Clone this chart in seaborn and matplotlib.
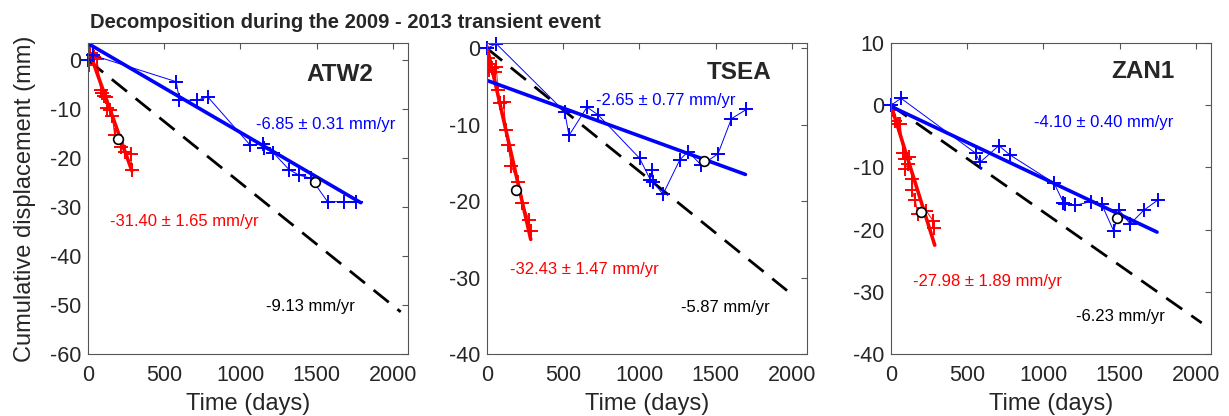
import seaborn as sns
import numpy as np
import matplotlib
matplotlib.use("Agg")
import matplotlib.pyplot as plt

stations = ["ATW2", "TSEA", "ZAN1"]

# time (days) / displacement (mm)
red_t = {
    "ATW2": [0, 7, 15, 37, 59, 83, 94, 103, 116, 124, 142, 159, 175, 218, 240, 280, 288],
    "TSEA": [0, 7, 13, 18, 35, 50, 61, 72, 83, 109, 123, 138, 160, 204, 232, 276, 287],
    "ZAN1": [0, 7, 29, 44, 61, 79, 94, 94, 110, 116, 138, 138, 160, 175, 232, 276, 285],
}
red_y = {
    "ATW2": [0, -1.0, 1.4, 0.7, 0.3, -6.0, -6.7, -7.3, -7.5, -9.7, -10.2, -11.4, -15.3, -17.7, -18.7, -19.2, -22.4],
    "TSEA": [0, -1.3, -2.8, -2.0, -2.6, -3.1, -2.4, -5.5, -7.2, -7.0, -10.7, -12.7, -15.4, -17.5, -20.2, -22.5, -23.9],
    "ZAN1": [0, -0.8, -2.6, -3.0, -3.0, -7.7, -8.7, -10.2, -9.4, -8.4, -11.8, -13.7, -15.3, -17.5, -17.0, -18.6, -19.8],
}
blue_t = {
    "ATW2": [0, 32, 579, 600, 714, 786, 1063, 1146, 1157, 1216, 1321, 1387, 1463, 1572, 1681, 1758],
    "TSEA": [0, 61, 510, 538, 656, 729, 1002, 1072, 1085, 1090, 1155, 1265, 1319, 1407, 1516, 1604, 1702],
    "ZAN1": [0, 66, 555, 583, 708, 781, 1070, 1132, 1140, 1208, 1311, 1382, 1461, 1498, 1570, 1658, 1754],
}
blue_y = {
    "ATW2": [0, 1.0, -4.4, -8.2, -8.2, -7.5, -17.3, -17.1, -18.0, -18.9, -22.4, -23.5, -24.1, -28.9, -28.9, -28.9],
    "TSEA": [0, 0.6, -8.3, -11.4, -7.7, -8.7, -14.4, -17.2, -15.9, -17.5, -19.1, -14.6, -13.5, -15.3, -13.8, -9.2, -8.0],
    "ZAN1": [0, 1.1, -7.7, -9.2, -6.5, -8.0, -12.5, -15.7, -15.9, -16.1, -15.5, -15.9, -20.2, -16.9, -19.1, -16.9, -15.2],
}
circ_t = {"ATW2": [197, 1487], "TSEA": [188, 1424], "ZAN1": [200, 1482]}
circ_y = {"ATW2": [-16.2, -24.8], "TSEA": [-18.6, -14.8], "ZAN1": [-17.2, -18.1]}

# fitted line end points
red_fit_t = {"ATW2": [13, 288], "TSEA": [0, 287], "ZAN1": [0, 287]}
red_fit_y = {"ATW2": [1.4, -22.6], "TSEA": [0.2, -25.0], "ZAN1": [0, -22.5]}
blue_fit_t = {"ATW2": [0, 1790], "TSEA": [0, 1696], "ZAN1": [0, 1746]}
blue_fit_y = {"ATW2": [3.4, -29.1], "TSEA": [-4.2, -16.5], "ZAN1": [-0.2, -20.4]}
lin_t = {"ATW2": [0, 2052], "TSEA": [0, 1969], "ZAN1": [0, 2039]}
lin_y = {"ATW2": [0, -51.4], "TSEA": [0, -31.7], "ZAN1": [0, -35.0]}

red_lbl = {"ATW2": "-31.40 ± 1.65 mm/yr", "TSEA": "-32.43 ± 1.47 mm/yr", "ZAN1": "-27.98 ± 1.89 mm/yr"}
blue_lbl = {"ATW2": "-6.85 ± 0.31 mm/yr", "TSEA": "-2.65 ± 0.77 mm/yr", "ZAN1": "-4.10 ± 0.40 mm/yr"}
lin_lbl = {"ATW2": "-9.13 mm/yr", "TSEA": "-5.87 mm/yr", "ZAN1": "-6.23 mm/yr"}

# label positions (data coords)
red_pos = {"ATW2": (144, -33.0), "TSEA": (149, -29.0), "ZAN1": (145, -28.3)}
blue_pos = {"ATW2": (1101, -13.1), "TSEA": (713, -6.8), "ZAN1": (939, -2.8)}
lin_pos = {"ATW2": (1166, -50.4), "TSEA": (1276, -33.9), "ZAN1": (1217, -34.0)}
name_pos = {"ATW2": (1650, -3.0), "TSEA": (1652, -3.1), "ZAN1": (1651, 5.4)}

ylims = {"ATW2": (-60, 3.5), "TSEA": (-40, 0.7), "ZAN1": (-40, 10)}
yticks = {"ATW2": np.arange(-60, 1, 10), "TSEA": np.arange(-40, 1, 10), "ZAN1": np.arange(-40, 11, 10)}

sns.set_style("white")
plt.rcParams['font.family'] = ['Liberation Sans', 'DejaVu Sans']
plt.rcParams['axes.unicode_minus'] = False

fig = plt.figure(figsize=(12.29, 4.16), dpi=100)
lefts = [88, 487, 891]

for st, lx in zip(stations, lefts):
    ax = fig.add_axes([lx / 1229, 62 / 416, 320 / 1229, 311 / 416])

    sns.lineplot(x=lin_t[st], y=lin_y[st], ax=ax, color="black", lw=2,
                 linestyle=(0, (7, 4)), sort=False, estimator=None)
    sns.lineplot(x=red_t[st], y=red_y[st], ax=ax, color="red", lw=0.7,
                 marker="+", markersize=10, mew=1.4, mec="red",
                 sort=False, estimator=None)
    sns.lineplot(x=red_fit_t[st], y=red_fit_y[st], ax=ax, color="red", lw=2.6,
                 sort=False, estimator=None)
    sns.lineplot(x=blue_t[st], y=blue_y[st], ax=ax, color="blue", lw=0.7,
                 marker="+", markersize=10, mew=1.4, mec="blue",
                 sort=False, estimator=None, clip_on=False)
    sns.lineplot(x=blue_fit_t[st], y=blue_fit_y[st], ax=ax, color="blue", lw=2.6,
                 sort=False, estimator=None)
    ax.plot(circ_t[st], circ_y[st], "o", mfc="white", mec="black", ms=7, mew=1.2, zorder=5)

    ax.text(*red_pos[st], red_lbl[st], color="red", fontsize=12, va="center", ha="left")
    ax.text(*blue_pos[st], blue_lbl[st], color="blue", fontsize=12, va="center", ha="left")
    ax.text(*lin_pos[st], lin_lbl[st], color="black", fontsize=12, va="center", ha="left")
    ax.text(*name_pos[st], st, fontsize=17.5, fontweight="bold", va="center", ha="center")

    ax.set_xlim(0, 2100)
    ax.set_ylim(*ylims[st])
    ax.set_xticks([0, 500, 1000, 1500, 2000])
    ax.set_yticks(yticks[st])
    ax.tick_params(direction="in", top=True, right=True, labelsize=15.5,
                   length=4, width=0.8, color="#555555")
    ax.tick_params(axis="x", pad=8)
    ax.tick_params(axis="y", pad=5)
    for s in ax.spines.values():
        s.set_color("#555555")
        s.set_linewidth(0.8)
    ax.set_xlabel("Time (days)", fontsize=17, labelpad=5)
    ax.set_ylabel("")
    if st == "ATW2":
        ax.set_ylabel("Cumulative displacement (mm)", fontsize=17, labelpad=10)

fig.text(90 / 1229, 1 - 22 / 416, "Decomposition during the 2009 - 2013 transient event",
         fontsize=14.5, fontweight="bold", ha="left", va="center")

fig.savefig("out.png", dpi=100)
